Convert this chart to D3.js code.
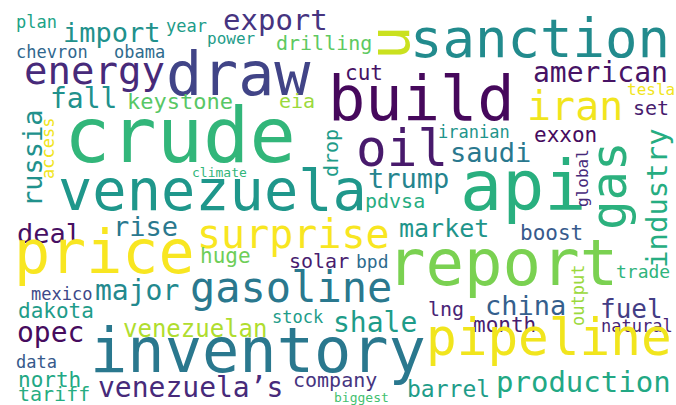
<!DOCTYPE html>
<html>
<head>
<meta charset="utf-8">
<script src="https://cdn.jsdelivr.net/npm/d3@7"></script>
<style>
  html, body { margin: 0; padding: 0; background: #ffffff; }
  svg { display: block; }
</style>
</head>
<body>
<div id="chart"></div>
<script>
// ---- data: words and their weights (font weight in the cloud) ----
const words = [
  "plan","year","import","export","power","drilling","chevron","obama","energy","draw",
  "sanction","cut","american","fall","keystone","eia","build","iran","tesla","set",
  "iranian","exxon","crude","oil","saudi","climate","trump","api","venezuela","pdvsa",
  "deal","rise","surprise","market","boost","price","report","huge","solar","bpd",
  "trade","mexico","major","gasoline","china","fuel","dakota","lng","stock","shale",
  "month","natural","opec","venezuelan","inventory","pipeline","data","north","tariff","venezuela’s",
  "company","barrel","production","biggest",
  "u","drop","access","russia","global","gas","industry","output"
];
const weights = [
  17,17,27,29,16,20,17,17,39,60,
  54,21,28,28,22,20,62,40,16,20,
  17,21,77,51,27,13,27,70,57,20,
  27,27,40,25,21,60,64,21,20,18,
  18,17,28,42,27,26,21,20,17,28,
  21,17,28,24,62,51,17,21,20,28,
  20,23,29,13,
  57,20,17,27,16,49,29,17
];

// ---- layout of the cloud (anchor of each word on a 676x405 canvas) ----
const layoutX = [
  16,166,63,223,207,276,16,114,24,166,
  410,345,533,50,127,279,328,527,627,633,
  438,534,64,356,450,192,368,460,58,365,
  17,113,197,399,520,14,387,200,289,356,
  616,31,95,190,485,600,18,428,272,333,
  473,601,17,123,90,426,16,18,18,98,
  293,407,496,334,
  409,338,54,42,588,626,667,584
];
const layoutY = [
  28,32,42,30,44,50,58,58,84,95,
  57,80,82,108,109,108,120,120,95,115,
  138,142,162,166,162,177,188,210,210,208,
  243,236,248,237,240,273,285,263,268,268,
  278,300,300,302,315,318,318,316,323,332,
  332,332,342,337,372,355,368,387,401,397,
  387,397,392,402,
  60,177,179,207,207,230,268,326
];
const rotation = [
  0,0,0,0,0,0,0,0,0,0,
  0,0,0,0,0,0,0,0,0,0,
  0,0,0,0,0,0,0,0,0,0,
  0,0,0,0,0,0,0,0,0,0,
  0,0,0,0,0,0,0,0,0,0,
  0,0,0,0,0,0,0,0,0,0,
  0,0,0,0,
  -90,-90,-90,-90,-90,-90,-90,-90
];
// position of each word's colour on the viridis ramp
const shade = [
  .58,.55,.5,.15,.55,.75,.33,.35,.12,.2,
  .48,.05,.05,.5,.74,.85,.02,.98,.98,.08,
  .52,.03,.66,.07,.4,.66,.45,.63,.53,.62,
  .04,.4,.99,.52,.28,.99,.8,.78,.08,.35,
  .65,.22,.47,.4,.3,.18,.55,.1,.55,.55,
  .08,.1,.03,.88,.4,.98,.28,.6,.62,.12,
  .15,.55,.6,.7,
  .92,.55,.98,.5,.12,.64,.62,.85
];

const W = 676, H = 405;
const svg = d3.select("#chart").append("svg")
  .attr("width", W).attr("height", H);
svg.append("rect").attr("width", W).attr("height", H).attr("fill", "#ffffff");

const x = d3.scaleLinear().domain([0, 676]).range([0, W]);
const y = d3.scaleLinear().domain([0, 405]).range([0, H]);
const size = d3.scaleLinear().domain([0, 100]).range([0, 100]);
const color = t => d3.interpolateViridis(t);

const rows = words.map((w, i) => ({
  text: w, weight: weights[i], px: layoutX[i], py: layoutY[i],
  rot: rotation[i], t: shade[i]
}));

svg.append("g").selectAll("text")
  .data(rows)
  .join("text")
  .attr("transform", d => `translate(${x(d.px)},${y(d.py)}) rotate(${d.rot})`)
  .attr("font-family", "'DejaVu Sans Mono', monospace")
  .attr("font-size", d => size(d.weight))
  .attr("fill", d => color(d.t))
  .text(d => d.text);
</script>
</body>
</html>
